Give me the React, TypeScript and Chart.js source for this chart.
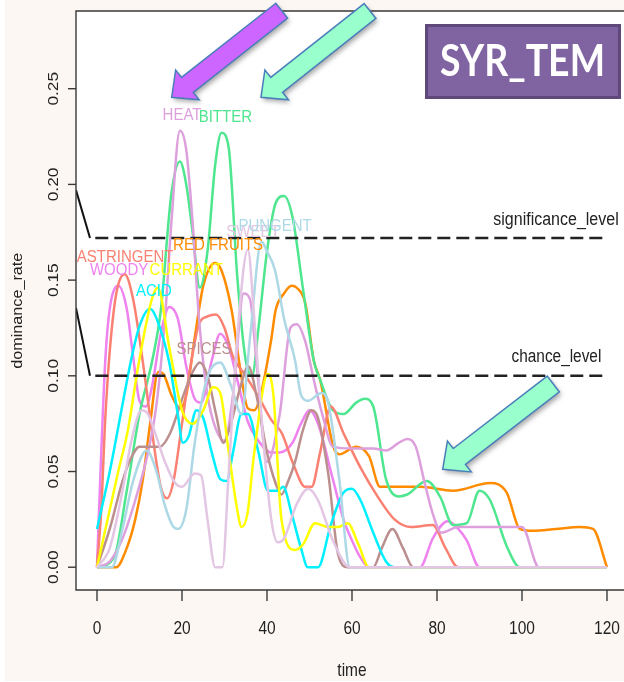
import React, { useEffect, useRef } from "react";
import { Chart, registerables } from "chart.js";

Chart.register(...registerables);

// ---------- axes ----------
const X_TICKS = [0, 20, 40, 60, 80, 100, 120];
const Y_TICKS = [0, 0.05, 0.1, 0.15, 0.2, 0.25];
const Y_TICK_LABELS = ["0.00", "0.05", "0.10", "0.15", "0.20", "0.25"];
const X_MIN = -4.94;
const X_MAX = 124.0;
const Y_MIN = -0.0119;
const Y_MAX = 0.2906;

// ---------- reference levels ----------
const SIGNIFICANCE_LEVEL = 0.172;
const CHANCE_LEVEL = 0.1;
const LEVEL_T = [-0.4, 120];
const SIG_LEADER_T = [-4.94, -1.65];
const SIG_LEADER_V = [0.197, 0.172];
const CHANCE_LEADER_T = [-4.94, -1.65];
const CHANCE_LEADER_V = [0.1355, 0.1];

// ---------- series (time, dominance rate) ----------
const ASTRINGENT_T = [0, 1, 2, 4, 6.5, 8.5, 10.8, 13, 15, 16.5, 18, 20, 22, 24, 26, 28, 30, 32, 35, 38, 41, 43.5, 46, 49, 50.5, 52.5, 55, 58, 62, 66, 70, 74, 79, 82, 85, 120];
const ASTRINGENT_V = [0, 0.03, 0.08, 0.135, 0.153, 0.14, 0.107, 0.07, 0.042, 0.036, 0.045, 0.075, 0.105, 0.127, 0.131, 0.132, 0.125, 0.11, 0.1, 0.089, 0.077, 0.07, 0.055, 0.042, 0.042, 0.06, 0.084, 0.07, 0.052, 0.037, 0.025, 0.021, 0.022, 0.01, 0, 0];

const WOODY_T = [0, 1, 2, 3, 5, 7, 8.5, 10, 11.5, 13, 15, 17, 19, 21, 23, 24.5, 27, 29, 31, 33, 35.5, 38, 41, 43, 46, 48, 50, 52, 55.5, 58, 60, 62, 64, 76, 79, 82.5, 85, 87, 90, 120];
const WOODY_V = [0, 0.06, 0.11, 0.135, 0.147, 0.135, 0.11, 0.087, 0.084, 0.095, 0.122, 0.136, 0.13, 0.105, 0.088, 0.086, 0.108, 0.122, 0.115, 0.098, 0.076, 0.066, 0.06, 0.06, 0.065, 0.075, 0.082, 0.075, 0.046, 0.025, 0.014, 0.005, 0, 0, 0.015, 0.024, 0.02, 0.014, 0, 0];

const HEAT_T = [0, 3, 6, 9, 12, 14, 16, 17.5, 19.5, 21, 22.5, 24, 26, 28, 30, 32, 34.5, 36, 37.5, 40, 43, 45.5, 47, 49, 51, 53, 55.5, 60, 65, 68, 71, 73, 75, 77, 79, 81, 85, 92, 100, 104, 120];
const HEAT_V = [0, 0.003, 0.015, 0.035, 0.06, 0.085, 0.13, 0.18, 0.228, 0.218, 0.18, 0.13, 0.09, 0.072, 0.066, 0.09, 0.143, 0.14, 0.108, 0.055, 0.08, 0.125, 0.127, 0.118, 0.098, 0.08, 0.063, 0.062, 0.062, 0.061, 0.065, 0.067, 0.063, 0.045, 0.028, 0.018, 0.021, 0.021, 0.021, 0, 0];

const BITTER_T = [0, 4, 7, 10, 13, 15, 17.5, 19.5, 21, 22.5, 24.2, 26, 27.8, 29.3, 31, 33, 35, 36.5, 38, 40, 42, 44, 46, 48.5, 51, 52.5, 55.5, 58, 61, 63, 65, 68, 71, 73, 77.6, 80.7, 83.8, 87, 90, 92.5, 96.4, 99.5, 120];
const BITTER_V = [0, 0.005, 0.04, 0.08, 0.108, 0.134, 0.195, 0.212, 0.2, 0.175, 0.146, 0.165, 0.21, 0.227, 0.219, 0.152, 0.108, 0.1, 0.125, 0.165, 0.19, 0.194, 0.183, 0.145, 0.108, 0.098, 0.082, 0.08, 0.086, 0.088, 0.084, 0.046, 0.037, 0.038, 0.045, 0.037, 0.022, 0.023, 0.04, 0.035, 0.011, 0, 0];

const RED_FRUITS_T = [0, 4.5, 7, 9, 10.8, 12.5, 14.4, 15.6, 17.5, 19.5, 21, 23, 25, 27.8, 29.3, 31.7, 33.6, 35.5, 37, 38.5, 41, 42, 44, 45.8, 47, 49, 51, 52.5, 55.6, 57, 61, 64, 66.6, 69.7, 76, 83.8, 92.5, 96.4, 99.5, 102.6, 108, 113.6, 116.7, 120];
const RED_FRUITS_V = [0, 0, 0.01, 0.025, 0.046, 0.075, 0.102, 0.101, 0.09, 0.083, 0.09, 0.12, 0.147, 0.159, 0.155, 0.134, 0.105, 0.083, 0.082, 0.09, 0.119, 0.134, 0.143, 0.147, 0.146, 0.138, 0.108, 0.098, 0.063, 0.059, 0.063, 0.058, 0.042, 0.042, 0.042, 0.04, 0.044, 0.039, 0.02, 0.019, 0.02, 0.021, 0.02, 0];

const CURRANT_T = [0, 2, 5, 7.3, 9.7, 12.9, 14.3, 17, 20, 22.5, 25, 27.3, 29, 31, 33, 34, 35.4, 37, 40.2, 41.5, 43.4, 46.6, 48.5, 51.3, 54.4, 56.8, 59, 61.5, 64, 120];
const CURRANT_V = [0, 0.02, 0.05, 0.072, 0.105, 0.14, 0.146, 0.115, 0.082, 0.075, 0.082, 0.094, 0.091, 0.06, 0.03, 0.021, 0.028, 0.06, 0.101, 0.09, 0.025, 0.009, 0.012, 0.023, 0.021, 0.021, 0.023, 0.012, 0, 0];

const ACID_T = [0, 3, 6, 8, 10, 12.5, 14, 17, 19, 20.2, 21.5, 23.4, 25, 27, 29, 30.5, 32, 34, 35.5, 38, 40.2, 42.6, 43.8, 45.8, 48, 49.6, 52, 55, 58, 60, 62, 65, 68, 70, 120];
const ACID_V = [0.02, 0.05, 0.085, 0.108, 0.126, 0.135, 0.13, 0.107, 0.08, 0.065, 0.068, 0.082, 0.078, 0.06, 0.046, 0.045, 0.06, 0.08, 0.08, 0.06, 0.04, 0.04, 0.042, 0.028, 0.01, 0, 0, 0.022, 0.039, 0.041, 0.035, 0.018, 0.003, 0, 0];

const SPICES_T = [0, 3, 6, 7.8, 10, 14.8, 17.2, 20.2, 22.5, 24.2, 26, 28, 29.7, 31.5, 33.6, 35.6, 37.5, 40, 42, 43.4, 45, 46.6, 48.5, 50.5, 52, 54.4, 56.7, 59, 65, 67, 69.5, 72, 74.4, 120];
const SPICES_V = [0, 0.02, 0.045, 0.056, 0.063, 0.063, 0.07, 0.089, 0.102, 0.107, 0.1, 0.08, 0.065, 0.075, 0.093, 0.105, 0.09, 0.06, 0.044, 0.038, 0.045, 0.055, 0.072, 0.082, 0.078, 0.049, 0.007, 0, 0, 0.01, 0.02, 0.01, 0, 0];

const PUNGENT_T = [0, 3.5, 6, 8.5, 11.7, 14, 16, 18, 19.1, 21, 23, 25.8, 29, 31.5, 34, 36, 38.7, 40, 41.9, 44, 46.6, 48, 49.7, 52.8, 54, 57, 59.5, 120];
const PUNGENT_V = [0, 0, 0.02, 0.045, 0.061, 0.05, 0.032, 0.021, 0.02, 0.03, 0.065, 0.098, 0.107, 0.095, 0.08, 0.12, 0.17, 0.165, 0.155, 0.13, 0.108, 0.09, 0.087, 0.091, 0.089, 0.046, 0, 0];

const SWEET_T = [0, 3, 6, 8, 10.5, 12, 14, 16, 18.4, 20, 23, 24.5, 26, 27.8, 29.5, 31, 33, 35.5, 37, 39, 41, 42.5, 44, 47, 49.7, 52, 55.5, 59.5, 120];
const SWEET_V = [0, 0.01, 0.04, 0.065, 0.082, 0.08, 0.068, 0.055, 0.044, 0.042, 0.049, 0.048, 0.025, 0, 0, 0.05, 0.12, 0.166, 0.13, 0.07, 0.025, 0.013, 0.015, 0.033, 0.041, 0.035, 0.014, 0, 0];

// ---------- curve labels (text placed at data coordinates) ----------
const LABEL_TEXT = ["ASTRINGENT", "WOODY", "CURRANT", "ACID", "RED FRUITS", "SPICES", "SWEET", "PUNGENT", "HEAT", "BITTER"];
const LABEL_T = [6.6, 5.2, 21.0, 13.4, 28.5, 25.2, 36.7, 41.9, 20.0, 30.2];
const LABEL_V = [0.162, 0.155, 0.155, 0.144, 0.168, 0.114, 0.175, 0.178, 0.236, 0.235];

const COLORS: Record<string, string> = {
  ASTRINGENT: "#FA8072",
  WOODY: "#EE82EE",
  HEAT: "#DDA0DD",
  BITTER: "#4EE68E",
  "RED FRUITS": "#FF8C00",
  CURRANT: "#FFFF00",
  ACID: "#00F0FF",
  SPICES: "#BC8F8F",
  PUNGENT: "#ADD8E6",
  SWEET: "#E3C6E3",
};

const SERIES = [
  { name: "SWEET", t: SWEET_T, v: SWEET_V },
  { name: "PUNGENT", t: PUNGENT_T, v: PUNGENT_V },
  { name: "CURRANT", t: CURRANT_T, v: CURRANT_V },
  { name: "ACID", t: ACID_T, v: ACID_V },
  { name: "SPICES", t: SPICES_T, v: SPICES_V },
  { name: "HEAT", t: HEAT_T, v: HEAT_V },
  { name: "ASTRINGENT", t: ASTRINGENT_T, v: ASTRINGENT_V },
  { name: "BITTER", t: BITTER_T, v: BITTER_V },
  { name: "RED FRUITS", t: RED_FRUITS_T, v: RED_FRUITS_V },
  { name: "WOODY", t: WOODY_T, v: WOODY_V },
];

const FONT = "'Liberation Sans', Arial, sans-serif";

function txt(
  ctx: CanvasRenderingContext2D,
  s: string,
  x: number,
  y: number,
  size: number,
  color: string,
  o: { align?: CanvasTextAlign; rot?: number; sx?: number; sy?: number; font?: string } = {}
) {
  ctx.save();
  ctx.translate(x, y);
  if (o.rot) ctx.rotate(o.rot);
  ctx.scale(o.sx || 1, o.sy || 1);
  ctx.font = o.font || `${size}px ${FONT}`;
  ctx.fillStyle = color;
  ctx.textAlign = o.align || "center";
  ctx.textBaseline = "middle";
  ctx.fillText(s, 0, 0);
  ctx.restore();
}

function arrow(
  ctx: CanvasRenderingContext2D,
  x0: number, y0: number, x1: number, y1: number,
  sw: number, hw: number, hl: number, fill: string
) {
  const dx = x1 - x0, dy = y1 - y0;
  const L = Math.hypot(dx, dy);
  const ux = dx / L, uy = dy / L;
  const nx = -uy, ny = ux;
  const bx = x1 - ux * hl, by = y1 - uy * hl;
  const pts = [
    [x0 + nx * sw / 2, y0 + ny * sw / 2],
    [bx + nx * sw / 2, by + ny * sw / 2],
    [bx + nx * hw / 2, by + ny * hw / 2],
    [x1, y1],
    [bx - nx * hw / 2, by - ny * hw / 2],
    [bx - nx * sw / 2, by - ny * sw / 2],
    [x0 - nx * sw / 2, y0 - ny * sw / 2],
  ];
  ctx.save();
  ctx.beginPath();
  pts.forEach((p, i) => (i ? ctx.lineTo(p[0], p[1]) : ctx.moveTo(p[0], p[1])));
  ctx.closePath();
  ctx.shadowColor = "rgba(0,0,0,0.35)";
  ctx.shadowBlur = 5;
  ctx.shadowOffsetX = 2;
  ctx.shadowOffsetY = 3;
  ctx.fillStyle = fill;
  ctx.fill();
  ctx.shadowColor = "transparent";
  ctx.lineWidth = 1.5;
  ctx.strokeStyle = "#4A7EBB";
  ctx.stroke();
  ctx.restore();
}

const decor = {
  id: "decor",
  beforeDraw(chart: any) {
    const { ctx, chartArea: a } = chart;
    ctx.save();
    ctx.fillStyle = "#fcf7f3";
    ctx.fillRect(5, 0, 619, 681);
    ctx.fillStyle = "#ffffff";
    ctx.fillRect(a.left, a.top, a.right - a.left, a.bottom - a.top);
    ctx.restore();
  },
  afterDraw(chart: any) {
    const { ctx, chartArea: a, scales } = chart;
    const xs = scales.x, ys = scales.y;
    ctx.save();
    // frame
    ctx.strokeStyle = "#3a3a3a";
    ctx.lineWidth = 1.4;
    ctx.beginPath();
    ctx.moveTo(a.right + 2, a.top);
    ctx.lineTo(a.left, a.top);
    ctx.lineTo(a.left, a.bottom);
    ctx.lineTo(a.right + 2, a.bottom);
    ctx.stroke();
    // y ticks
    Y_TICKS.forEach((v, i) => {
      const py = ys.getPixelForValue(v);
      ctx.beginPath();
      ctx.moveTo(a.left - 8, py);
      ctx.lineTo(a.left, py);
      ctx.stroke();
      txt(ctx, Y_TICK_LABELS[i], a.left - 22, py, 15.5, "#222", { rot: -Math.PI / 2, sx: 1.12 });
    });
    // x ticks
    X_TICKS.forEach((t) => {
      const px = xs.getPixelForValue(t);
      ctx.beginPath();
      ctx.moveTo(px, a.bottom);
      ctx.lineTo(px, a.bottom + 11);
      ctx.stroke();
      txt(ctx, String(t), px, a.bottom + 39, 15.5, "#222", { sy: 1.15 });
    });
    // axis titles
    txt(ctx, "time", xs.getPixelForValue(60), a.bottom + 81, 15.5, "#222", { sy: 1.15 });
    txt(ctx, "dominance_rate", 18, ys.getPixelForValue(0.134), 15, "#222", { rot: -Math.PI / 2, sx: 1.08 });
    // level labels
    txt(ctx, "significance_level", xs.getPixelForValue(108), ys.getPixelForValue(0.1815), 16, "#222", { sy: 1.15 });
    txt(ctx, "chance_level", xs.getPixelForValue(108.1), ys.getPixelForValue(0.1099), 15.4, "#222", { sy: 1.15 });
    // curve labels
    LABEL_TEXT.forEach((s, i) => {
      txt(ctx, s, xs.getPixelForValue(LABEL_T[i]), ys.getPixelForValue(LABEL_V[i]), 15, COLORS[s], { sy: 1.15 });
    });
    // arrows
    arrow(ctx, 281.7, 10.7, 171.7, 97.3, 19, 38, 20, "#CC66FF");
    arrow(ctx, 370, 11, 261, 97.3, 19, 38, 20, "#99FFCC");
    arrow(ctx, 553.3, 384, 442.7, 469.3, 20, 39, 21, "#99FFCC");
    // title box
    ctx.fillStyle = "#5F497A";
    ctx.fillRect(425, 24, 196, 75);
    ctx.fillStyle = "#8064A2";
    ctx.fillRect(428, 27, 190, 69);
    ctx.font = "bold 40px Lato, 'Open Sans', sans-serif";
    const w = ctx.measureText("SYR_TEM").width;
    txt(ctx, "SYR_TEM", 522.5, 62, 40, "#ffffff", {
      font: "bold 40px Lato, 'Open Sans', sans-serif",
      sx: 165 / w,
      sy: 1.12,
    });
    ctx.restore();
  },
};

export default function App() {
  const ref = useRef<HTMLCanvasElement | null>(null);
  useEffect(() => {
    if (!ref.current) return;
    const datasets: any[] = [
      {
        data: LEVEL_T.map((t) => ({ x: t, y: SIGNIFICANCE_LEVEL })),
        borderColor: "#222", borderWidth: 2.4, borderDash: [13, 6], order: 0,
      },
      {
        data: LEVEL_T.map((t) => ({ x: t, y: CHANCE_LEVEL })),
        borderColor: "#222", borderWidth: 2.4, borderDash: [13, 6], order: 0,
      },
      {
        data: SIG_LEADER_T.map((t, i) => ({ x: t, y: SIG_LEADER_V[i] })),
        borderColor: "#111", borderWidth: 2, order: 0,
      },
      {
        data: CHANCE_LEADER_T.map((t, i) => ({ x: t, y: CHANCE_LEADER_V[i] })),
        borderColor: "#111", borderWidth: 2, order: 0,
      },
      ...SERIES.map((s) => ({
        label: s.name,
        data: s.t.map((t, i) => ({ x: t, y: s.v[i] })),
        borderColor: COLORS[s.name],
        borderWidth: 2.5,
        cubicInterpolationMode: "monotone",
        order: 1,
      })),
    ];
    const chart = new Chart(ref.current, {
      type: "line",
      data: { datasets },
      options: {
        animation: false,
        responsive: false,
        devicePixelRatio: 1,
        elements: { point: { radius: 0 }, line: { fill: false } },
        layout: { padding: { left: 76, top: 11, right: 0, bottom: 92 } },
        plugins: { legend: { display: false }, tooltip: { enabled: false } },
        scales: {
          x: { type: "linear", min: X_MIN, max: X_MAX, display: false },
          y: { type: "linear", min: Y_MIN, max: Y_MAX, display: false },
        },
      },
      plugins: [decor],
    } as any);
    return () => chart.destroy();
  }, []);
  return (
    <div style={{ position: "absolute", left: 0, top: 0, width: 624, height: 682 }}>
      <canvas ref={ref} width={624} height={682} style={{ display: "block" }} />
    </div>
  );
}
